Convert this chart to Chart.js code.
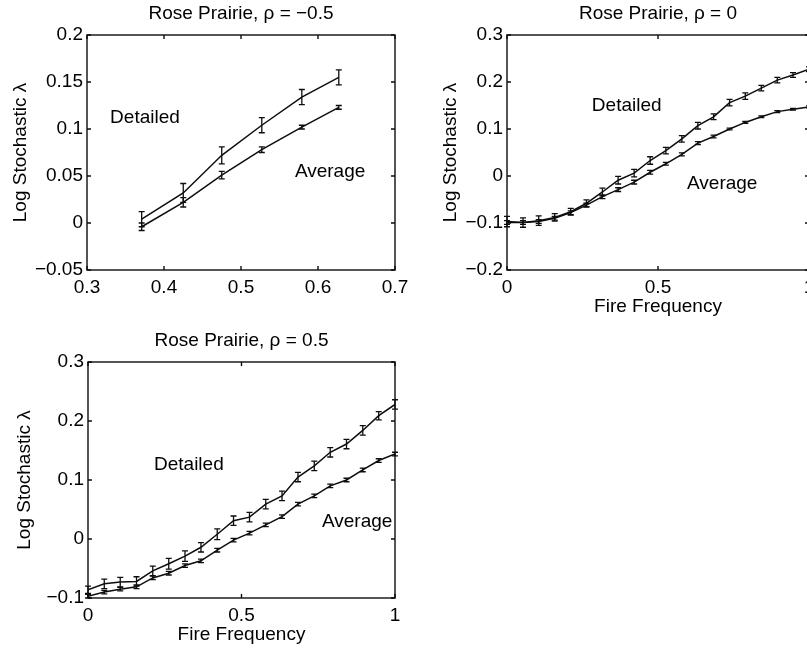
<!DOCTYPE html>
<html><head><meta charset="utf-8">
<script src="https://cdn.jsdelivr.net/npm/chart.js@4/dist/chart.umd.min.js"></script>
<style>
html,body{margin:0;padding:0;width:807px;height:649px;overflow:hidden;background:#fff;}
canvas{position:absolute;}
</style></head><body>
<canvas id="c1"></canvas><canvas id="c2"></canvas><canvas id="c3"></canvas>
<script>
// ---------- text ----------
const panelTitles = ['Rose Prairie, \u03C1 = \u22120.5', 'Rose Prairie, \u03C1 = 0', 'Rose Prairie, \u03C1 = 0.5'];
const yAxisLabel = 'Log Stochastic \u03BB';
const xAxisLabel = 'Fire Frequency';
const seriesNames = ['Detailed', 'Average'];

// ---------- panel 1 : rho = -0.5 ----------
const fireFreqNeg    = [0.371, 0.425, 0.475, 0.527, 0.579, 0.627];
const detailedNeg    = [0.004, 0.032, 0.072, 0.104, 0.134, 0.155];
const detailedNegErr = [0.008, 0.010, 0.009, 0.008, 0.008, 0.008];
const averageNeg     = [-0.004, 0.022, 0.051, 0.078, 0.102, 0.123];
const averageNegErr  = [0.004, 0.005, 0.004, 0.003, 0.002, 0.002];
const xTicksNeg      = [0.3, 0.4, 0.5, 0.6, 0.7];
const xTickLabelsNeg = ['0.3', '0.4', '0.5', '0.6', '0.7'];
const yTicksNeg      = [-0.05, 0, 0.05, 0.1, 0.15, 0.2];
const yTickLabelsNeg = ['\u22120.05', '0', '0.05', '0.1', '0.15', '0.2'];

// ---------- fire frequencies for panels 2 and 3 ----------
const fireFreq = [0, 0.053, 0.105, 0.158, 0.211, 0.263, 0.316, 0.368, 0.421, 0.474,
                  0.526, 0.579, 0.632, 0.684, 0.737, 0.789, 0.842, 0.895, 0.947, 1];

// ---------- panel 2 : rho = 0 ----------
const detailedZero    = [-0.097, -0.099, -0.095, -0.088, -0.076, -0.058, -0.034, -0.009, 0.006, 0.033,
                         0.054, 0.079, 0.107, 0.126, 0.156, 0.170, 0.187, 0.204, 0.215, 0.227];
const detailedZeroErr = [0.011, 0.010, 0.010, 0.008, 0.007, 0.007, 0.008, 0.008, 0.008, 0.008,
                         0.007, 0.007, 0.007, 0.006, 0.007, 0.007, 0.006, 0.006, 0.005, 0.005];
const averageZero     = [-0.099, -0.099, -0.097, -0.090, -0.078, -0.062, -0.044, -0.029, -0.013, 0.008,
                         0.026, 0.046, 0.070, 0.084, 0.100, 0.114, 0.126, 0.137, 0.142, 0.147];
const averageZeroErr  = [0.004, 0.004, 0.004, 0.004, 0.004, 0.004, 0.004, 0.004, 0.004, 0.004,
                         0.003, 0.003, 0.003, 0.003, 0.002, 0.002, 0.002, 0.002, 0.002, 0.002];
const yTicksZero      = [-0.2, -0.1, 0, 0.1, 0.2, 0.3];
const yTickLabelsZero = ['\u22120.2', '\u22120.1', '0', '0.1', '0.2', '0.3'];

// ---------- panel 3 : rho = 0.5 ----------
const detailedPos    = [-0.086, -0.076, -0.073, -0.072, -0.054, -0.042, -0.029, -0.014, 0.008, 0.031,
                        0.037, 0.059, 0.073, 0.105, 0.124, 0.147, 0.161, 0.184, 0.209, 0.228];
const detailedPosErr = [0.006, 0.008, 0.008, 0.008, 0.008, 0.009, 0.009, 0.008, 0.009, 0.008,
                        0.008, 0.008, 0.008, 0.008, 0.008, 0.008, 0.008, 0.008, 0.007, 0.008];
const averagePos     = [-0.097, -0.090, -0.085, -0.081, -0.066, -0.058, -0.045, -0.037, -0.019, -0.002,
                        0.010, 0.024, 0.038, 0.059, 0.073, 0.090, 0.100, 0.117, 0.133, 0.144];
const averagePosErr  = [0.003, 0.003, 0.003, 0.003, 0.003, 0.003, 0.003, 0.003, 0.003, 0.003,
                        0.003, 0.003, 0.003, 0.003, 0.003, 0.003, 0.003, 0.003, 0.003, 0.003];
const yTicksPos      = [-0.1, 0, 0.1, 0.2, 0.3];
const yTickLabelsPos = ['\u22120.1', '0', '0.1', '0.2', '0.3'];

const xTicksUnit      = [0, 0.5, 1];
const xTickLabelsUnit = ['0', '0.5', '1'];

// ---------- styling / layout ----------
const FONT = "'Liberation Sans', Arial, Helvetica, sans-serif";
const FS = 19;
const INK = '#0d0d0d';

const plotPlugin = {
  id: 'matlabBox',
  afterDatasetsDraw(chart) {
    const {ctx, chartArea: a, scales: {x, y}} = chart;
    const opts = chart.options.plugins.matlabBox;
    ctx.save();
    ctx.strokeStyle = INK;
    ctx.lineWidth = 1.3;
    // error bars
    chart.data.datasets.forEach(ds => {
      ds.data.forEach((p, i) => {
        const e = ds.errors[i];
        const px = x.getPixelForValue(p.x);
        const y1 = y.getPixelForValue(p.y - e);
        const y2 = y.getPixelForValue(p.y + e);
        ctx.beginPath();
        ctx.moveTo(px, y1); ctx.lineTo(px, y2);
        ctx.moveTo(px - 3, y1); ctx.lineTo(px + 3, y1);
        ctx.moveTo(px - 3, y2); ctx.lineTo(px + 3, y2);
        ctx.stroke();
      });
    });
    // box
    ctx.lineWidth = 1.4;
    ctx.strokeRect(a.left, a.top, a.right - a.left, a.bottom - a.top);
    // inward ticks
    const tl = 4;
    ctx.beginPath();
    x.ticks.forEach(t => {
      const px = x.getPixelForValue(t.value);
      ctx.moveTo(px, a.bottom); ctx.lineTo(px, a.bottom - tl);
      ctx.moveTo(px, a.top); ctx.lineTo(px, a.top + tl);
    });
    y.ticks.forEach(t => {
      const py = y.getPixelForValue(t.value);
      ctx.moveTo(a.left, py); ctx.lineTo(a.left + tl, py);
      ctx.moveTo(a.right, py); ctx.lineTo(a.right - tl, py);
    });
    ctx.stroke();
    // title and annotations
    ctx.fillStyle = '#000';
    ctx.font = FS + 'px ' + FONT;
    ctx.textAlign = 'center';
    ctx.textBaseline = 'middle';
    ctx.fillText(opts.title, (a.left + a.right) / 2, a.top - 21);
    ctx.textAlign = 'left';
    opts.notes.forEach(n => {
      ctx.fillText(n.text, x.getPixelForValue(n.x), y.getPixelForValue(n.y));
    });
    ctx.restore();
  }
};

function makePanel(id, g, spec) {
  const cv = document.getElementById(id);
  cv.width = g.w; cv.height = g.h;
  cv.style.left = g.left + 'px'; cv.style.top = g.top + 'px';
  cv.style.width = g.w + 'px'; cv.style.height = g.h + 'px';
  const series = [
    {label: seriesNames[0], ys: spec.det, errs: spec.detErr},
    {label: seriesNames[1], ys: spec.avg, errs: spec.avgErr}
  ];
  const lh = FS * 1.2;
  new Chart(cv, {
    type: 'line',
    data: {
      datasets: series.map(s => ({
        label: s.label,
        data: spec.xs.map((xv, i) => ({x: xv, y: s.ys[i]})),
        errors: s.errs,
        borderColor: INK,
        borderWidth: 1.5,
        pointRadius: 0,
        tension: 0,
        fill: false
      }))
    },
    options: {
      responsive: false,
      animation: false,
      devicePixelRatio: 1,
      layout: {padding: {left: 0, top: g.area.t - g.top, right: g.left + g.w - g.area.r, bottom: 0}},
      plugins: {
        legend: {display: false},
        tooltip: {enabled: false},
        title: {display: false},
        matlabBox: {title: spec.title, notes: spec.notes}
      },
      scales: {
        x: {
          type: 'linear',
          min: spec.xTicks[0], max: spec.xTicks[spec.xTicks.length - 1],
          grid: {display: false, drawTicks: false},
          border: {display: false},
          afterBuildTicks: s => { s.ticks = spec.xTicks.map(v => ({value: v})); },
          afterFit: s => { s.height = g.top + g.h - g.area.b; s.paddingLeft = 0; s.paddingRight = 0; },
          ticks: {
            padding: 6, color: '#000', maxRotation: 0, autoSkip: false,
            font: {family: FONT, size: FS},
            callback: (v, i) => spec.xLabels[i]
          },
          title: {
            display: spec.xTitle, text: xAxisLabel, color: '#000',
            font: {family: FONT, size: FS},
            padding: {top: 0, bottom: g.h - (g.area.b + g.xTitleGap - g.top) - lh / 2}
          }
        },
        y: {
          type: 'linear',
          min: spec.yTicks[0], max: spec.yTicks[spec.yTicks.length - 1],
          grid: {display: false, drawTicks: false},
          border: {display: false},
          afterBuildTicks: s => { s.ticks = spec.yTicks.map(v => ({value: v})); },
          afterFit: s => { s.width = g.area.l - g.left; s.paddingTop = 0; s.paddingBottom = 0; },
          ticks: {
            padding: 4, color: '#000', autoSkip: false,
            font: {family: FONT, size: FS},
            callback: (v, i) => spec.yLabels[i]
          },
          title: {
            display: true, text: yAxisLabel, color: '#000',
            font: {family: FONT, size: FS},
            padding: {top: g.yTitleX - g.left - lh / 2, bottom: 0}
          }
        }
      }
    },
    plugins: [plotPlugin]
  });
}

makePanel('c1',
  {left: 0, top: 0, w: 420, h: 320, area: {l: 87, t: 35, r: 395, b: 270}, yTitleX: 21, xTitleGap: 37},
  {title: panelTitles[0], xs: fireFreqNeg, det: detailedNeg, detErr: detailedNegErr,
   avg: averageNeg, avgErr: averageNegErr,
   xTicks: xTicksNeg, xLabels: xTickLabelsNeg, yTicks: yTicksNeg, yLabels: yTickLabelsNeg, xTitle: false,
   notes: [{text: seriesNames[0], x: 0.33, y: 0.112}, {text: seriesNames[1], x: 0.57, y: 0.055}]});

makePanel('c2',
  {left: 420, top: 0, w: 420, h: 320, area: {l: 507, t: 35, r: 809, b: 270}, yTitleX: 451, xTitleGap: 37},
  {title: panelTitles[1], xs: fireFreq, det: detailedZero, detErr: detailedZeroErr,
   avg: averageZero, avgErr: averageZeroErr,
   xTicks: xTicksUnit, xLabels: xTickLabelsUnit, yTicks: yTicksZero, yLabels: yTickLabelsZero, xTitle: true,
   notes: [{text: seriesNames[0], x: 0.281, y: 0.149}, {text: seriesNames[1], x: 0.596, y: -0.017}]});

makePanel('c3',
  {left: 0, top: 325, w: 420, h: 324, area: {l: 88, t: 362, r: 395, b: 598}, yTitleX: 25, xTitleGap: 37},
  {title: panelTitles[2], xs: fireFreq, det: detailedPos, detErr: detailedPosErr,
   avg: averagePos, avgErr: averagePosErr,
   xTicks: xTicksUnit, xLabels: xTickLabelsUnit, yTicks: yTicksPos, yLabels: yTickLabelsPos, xTitle: true,
   notes: [{text: seriesNames[0], x: 0.215, y: 0.125}, {text: seriesNames[1], x: 0.762, y: 0.029}]});
</script>
</body></html>
